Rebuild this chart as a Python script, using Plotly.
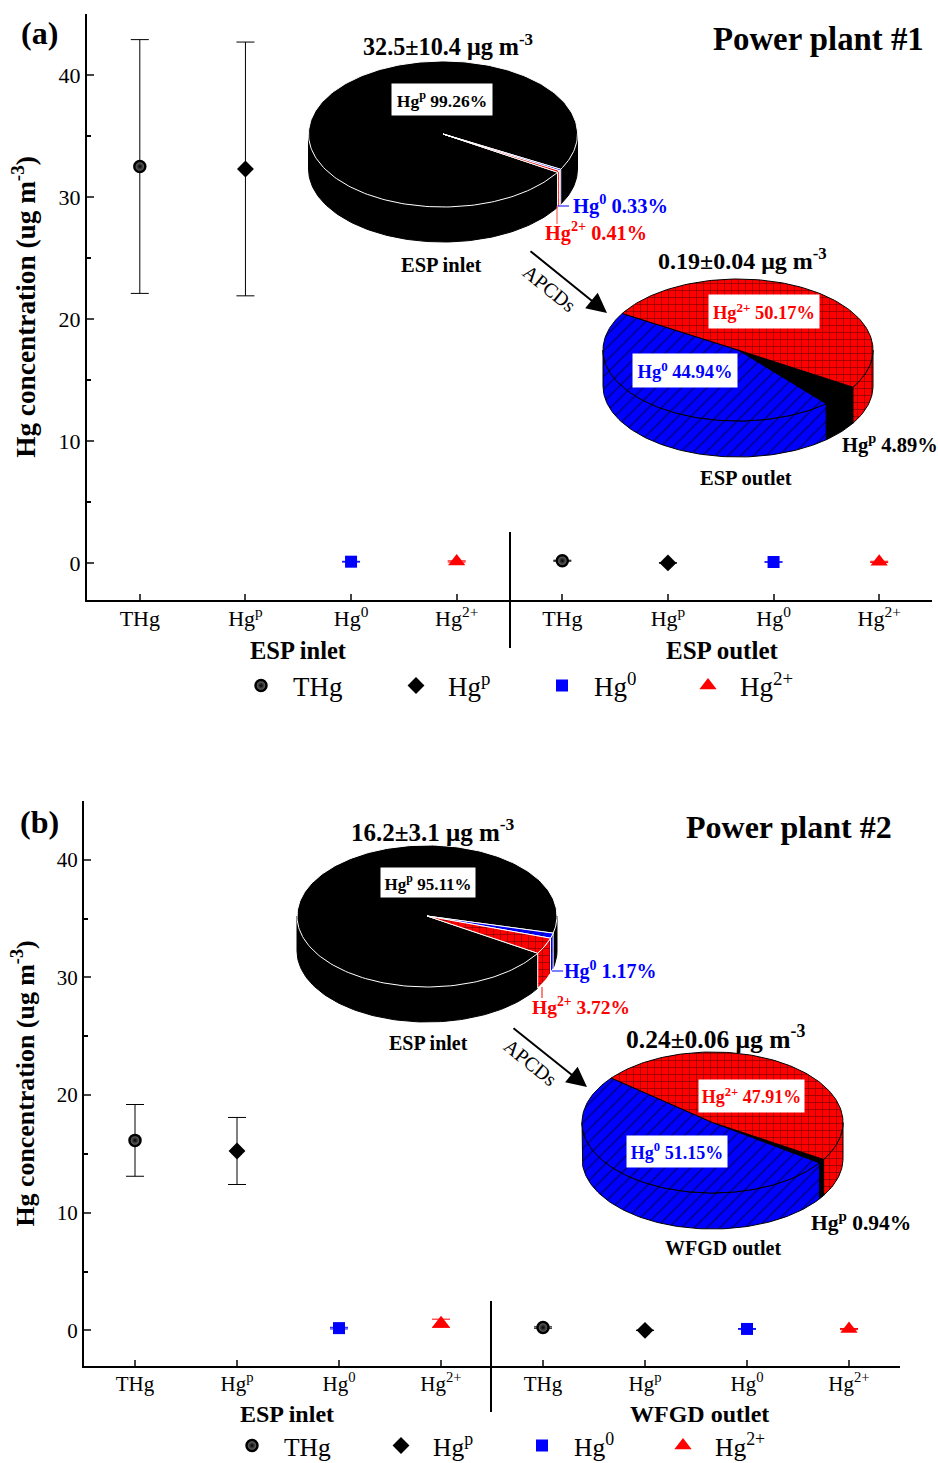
import math
import plotly.graph_objects as go

# ---------- data ----------
positions = [1, 2, 3, 4, 5, 6, 7, 8]
tick_labels_a = ["THg", "Hg<sup>p</sup>", "Hg<sup>0</sup>", "Hg<sup>2+</sup>",
                 "THg", "Hg<sup>p</sup>", "Hg<sup>0</sup>", "Hg<sup>2+</sup>"]
species = ["THg", "Hg<sup>p</sup>", "Hg<sup>0</sup>", "Hg<sup>2+</sup>"]

# panel (a): [inlet, outlet] for each species
a_thg = [32.5, 0.19]
a_thg_err = [10.4, 0.04]
a_hgp = [32.3, 0.01]
a_hgp_err = [10.4, 0.005]
a_hg0 = [0.11, 0.085]
a_hg0_err = [0.03, 0.02]
a_hg2 = [0.13, 0.095]
a_hg2_err = [0.05, 0.05]

# panel (b)
b_thg = [16.15, 0.24]
b_thg_err = [3.05, 0.06]
b_hgp = [15.25, 0.002]
b_hgp_err = [2.85, 0.002]
b_hg0 = [0.19, 0.12]
b_hg0_err = [0.07, 0.03]
b_hg2 = [0.6, 0.11]
b_hg2_err = [0.35, 0.05]

# pie shares (%), in clockwise order starting from particulate mercury
pie_a_in = [99.26, 0.33, 0.41]
pie_a_out = [4.89, 44.94, 50.17]
pie_b_in = [95.11, 1.17, 3.72]
pie_b_out = [0.94, 51.15, 47.91]

# ---------- styles ----------
W, H = 938, 1463
SERIF = "Liberation Serif"
fig = go.Figure()


def py(p):
    return 1 - p / H


fig.update_layout(
    width=W, height=H, margin=dict(l=0, r=0, t=0, b=0, autoexpand=False), autosize=False,
    paper_bgcolor="white", plot_bgcolor="rgba(0,0,0,0)",
    font=dict(family=SERIF, color="black", size=22), hovermode=False,
)

SYMS = ["circle", "diamond", "square", "triangle-up"]
SIZES = [11, 13, 12, 15]
COLS = ["black", "black", "blue", "red"]


def axes(suffix, x0, x1, y0, y1, title_font, standoff, tick_font):
    fig.update_layout(**{
        f"xaxis{suffix}": dict(
            domain=[x0 / W, x1 / W], range=[0.5, 8.5], anchor=f"y{suffix}",
            tickmode="array", tickvals=positions, ticktext=tick_labels_a,
            ticks="inside", ticklen=6, tickwidth=2, showline=True, linewidth=2,
            linecolor="black", showgrid=False, zeroline=False, ticklabelstandoff=-2,
            tickfont=dict(family=SERIF, size=tick_font), fixedrange=True,
        ),
        f"yaxis{suffix}": dict(
            domain=[py(y1), py(y0)], range=[-3.03, 45], anchor=f"x{suffix}",
            tick0=0, dtick=10, ticks="inside", ticklen=7, tickwidth=2,
            showline=True, linewidth=2, linecolor="black", showgrid=False,
            zeroline=False, tickfont=dict(family=SERIF, size=tick_font), fixedrange=True,
            minor=dict(dtick=5, tick0=0, ticks="inside", ticklen=4, tickwidth=2, tickcolor="black"),
            title=dict(text="<b>Hg concentration (ug m<sup>-3</sup>)</b>",
                       font=dict(family=SERIF, size=title_font), standoff=standoff),
        ),
    })


axes("", 87, 932, 14, 600, 27.3, 15, 22)
axes("2", 84, 900, 801, 1366, 25.9, 15, 21)
fig.update_layout(
    xaxis3=dict(domain=[0, 1], range=[0, W], visible=False, fixedrange=True, anchor="y3"),
    yaxis3=dict(domain=[0, 1], range=[H, 0], visible=False, fixedrange=True, anchor="x3"),
)


def series(panel_axes, legend_ids, sets, legend_y, legend_x, font):
    for i, (vals, errs) in enumerate(sets):
        marker = dict(symbol=SYMS[i], size=SIZES[i], color=COLS[i], line=dict(width=0))
        if i == 0:
            marker = dict(symbol="circle", size=SIZES[i], color="#808080",
                          gradient=dict(type="radial", color="black"),
                          line=dict(width=2.5, color="black"))
        fig.add_trace(go.Scatter(
            x=[positions[i], positions[i + 4]], y=vals, mode="markers",
            name=species[i], marker=marker,
            error_y=dict(type="data", array=errs, color=COLS[i], thickness=1, width=9),
            xaxis=panel_axes[0], yaxis=panel_axes[1], legend=legend_ids[i],
            showlegend=True, hoverinfo="skip",
        ))
        fig.update_layout(**{legend_ids[i]: dict(
            x=(legend_x[i] - 33) / W, xanchor="left", y=py(legend_y), yanchor="middle",
            itemwidth=54, bgcolor="rgba(0,0,0,0)", font=dict(family=SERIF, size=font),
            borderwidth=0, itemclick=False, itemdoubleclick=False,
        )})


series(("x", "y"), ["legend", "legend2", "legend3", "legend4"],
       [(a_thg, a_thg_err), (a_hgp, a_hgp_err), (a_hg0, a_hg0_err), (a_hg2, a_hg2_err)],
       686, [262, 417, 563, 709], 27)
series(("x2", "y2"), ["legend5", "legend6", "legend7", "legend8"],
       [(b_thg, b_thg_err), (b_hgp, b_hgp_err), (b_hg0, b_hg0_err), (b_hg2, b_hg2_err)],
       1446, [253, 402, 543, 684], 25.5)

# ---------- pies ----------
PAT = {
    "p": dict(fill="black", pattern=None),
    "0": dict(fill="blue", pattern=dict(shape="/", size=9, solidity=0.16, fgcolor="black", bgcolor="blue")),
    "2": dict(fill="red", pattern=dict(shape="+", size=7, solidity=0.18, fgcolor="black", bgcolor="red")),
}
START_DEG = 31.6  # clockwise from 3 o'clock on screen


def arc(cx, cy, rx, ry, a, b, dy=0):
    n = max(2, int(abs(b - a) / 1.5) + 2)
    xs, ys = [], []
    for k in range(n):
        t = math.radians(a + (b - a) * k / (n - 1))
        xs.append(cx + rx * math.cos(t))
        ys.append(cy + ry * math.sin(t) + dy)
    return xs, ys


def poly(xs, ys, style, edge, lw):
    kw = dict(fillcolor=style["fill"])
    if style["pattern"]:
        kw["fillpattern"] = style["pattern"]
    fig.add_trace(go.Scatter(x=xs, y=ys, mode="lines", fill="toself", line=dict(color=edge, width=lw),
                             xaxis="x3", yaxis="y3", showlegend=False, hoverinfo="skip", **kw))


def pie(shares, cx, cy, rx, ry, depth, edge):
    keys = ["p", "0", "2"]
    a = START_DEG
    spans = []
    for s, k in zip(shares, keys):
        b = a + s * 3.6
        spans.append((a, b, k))
        a = b
    # side walls
    for a0, b0, k in spans:
        for lo, hi in ((0, 180), (360, 540)):
            l, h = max(a0, lo), min(b0, hi)
            if h > l:
                xt, yt = arc(cx, cy, rx, ry, l, h)
                xb, yb = arc(cx, cy, rx, ry, l, h, depth)
                poly(xt + xb[::-1] + xt[:1], yt + yb[::-1] + yt[:1], PAT[k], edge if k != "p" else "black", 1)
    # top faces
    for a0, b0, k in spans:
        xs, ys = arc(cx, cy, rx, ry, a0, b0)
        poly([cx] + xs + [cx], [cy] + ys + [cy], PAT[k], edge if k == "p" or edge == "white" else "black", 1)


pie(pie_a_in, 443, 134, 134.5, 73, 35, "white")
pie(pie_a_out, 738, 350, 135, 71, 36, "black")
pie(pie_b_in, 427, 916, 130, 71, 35, "white")
pie(pie_b_out, 712.5, 1122.5, 130.5, 70.5, 36, "black")

# ---------- guide lines ----------
shapes = []


def seg(x0, y0, x1, y1, color, width):
    shapes.append(dict(type="line", xref="x3", yref="y3", x0=x0, y0=y0, x1=x1, y1=y1,
                       line=dict(color=color, width=width)))


seg(510, 532, 510, 648, "black", 2)
seg(491, 1301, 491, 1412, "black", 2)
seg(557.5, 206, 569, 206, "blue", 1)
seg(557, 206, 557, 224, "#ff4040", 1)
seg(552, 971, 563, 971, "blue", 1)
seg(542, 987, 542, 998, "red", 1)
fig.update_layout(shapes=shapes)

# ---------- text ----------
ann = []


def text(x, y, s, size, color="black", anchor="center", bold=True, box=None, angle=0):
    if "<sup>" in s:
        y -= 2
    d = dict(x=x, y=y, xref="x3", yref="y3", text=f"<b>{s}</b>" if bold else s, showarrow=False,
             font=dict(family=SERIF, size=size, color=color), xanchor=anchor, yanchor="middle",
             textangle=angle)
    if box:
        d.update(bgcolor="white", width=box[0], height=box[1], align="center", borderpad=0)
    ann.append(d)


def arrow(x0, y0, x1, y1):
    ann.append(dict(x=x1, y=y1, ax=x0, ay=y0, xref="x3", yref="y3", axref="x3", ayref="y3", text="",
                    showarrow=True, arrowhead=2, arrowsize=2.0, arrowwidth=2, arrowcolor="black"))


# panel a
text(39, 33, "(a)", 32)
text(818.5, 39, "Power plant #1", 32.8)
text(448, 47, "32.5±10.4 μg m<sup>-3</sup>", 24.2)
text(442, 101, "Hg<sup>p</sup> 99.26%", 17.5, box=(100, 31))
text(571, 206, "Hg<sup>0</sup> 0.33%", 20.5, "blue", "left")
text(543, 233, "Hg<sup>2+</sup> 0.41%", 20.3, "red", "left")
text(441, 265, "ESP inlet", 20.5)
arrow(529, 250, 607, 313)
text(549, 288, "APCDs", 20, bold=False, angle=39)
text(742, 261, "0.19±0.04 μg m<sup>-3</sup>", 24)
text(764, 313, "Hg<sup>2+</sup> 50.17%", 18.5, "red", box=(110, 33))
text(685, 372, "Hg<sup>0</sup> 44.94%", 18.5, "blue", box=(104, 33))
text(840, 445, "Hg<sup>p</sup> 4.89%", 20.5, anchor="left")
text(746, 478, "ESP outlet", 20.5)
text(298, 650, "ESP inlet", 24.5)
text(722, 650, "ESP outlet", 25)

# panel b
text(39, 822, "(b)", 32)
text(788.5, 827, "Power plant #2", 32)
text(433, 832, "16.2±3.1 μg m<sup>-3</sup>", 25)
text(428, 884, "Hg<sup>p</sup> 95.11%", 17, box=(94, 29))
text(562, 972, "Hg<sup>0</sup> 1.17%", 20, "blue", "left")
text(530, 1008, "Hg<sup>2+</sup> 3.72%", 19.5, "red", "left")
text(428, 1043, "ESP inlet", 20)
arrow(512, 1027, 587, 1087)
text(530, 1062, "APCDs", 20, bold=False, angle=39)
text(715, 1039, "0.24±0.06 μg m<sup>-3</sup>", 25.5)
text(751, 1098, "Hg<sup>2+</sup> 47.91%", 18, "red", box=(105, 32))
text(677, 1153, "Hg<sup>0</sup> 51.15%", 18, "blue", box=(100, 31))
text(809, 1223, "Hg<sup>p</sup> 0.94%", 21.5, anchor="left")
text(723, 1248, "WFGD outlet", 20)
text(287, 1414, "ESP inlet", 24)
text(699, 1414, "WFGD outlet", 24)
fig.update_layout(annotations=ann)

fig.write_html("out.html", post_script="document.body.style.margin='0';",
               default_width="938px", default_height="1463px",
               config=dict(displayModeBar=False, responsive=False))
